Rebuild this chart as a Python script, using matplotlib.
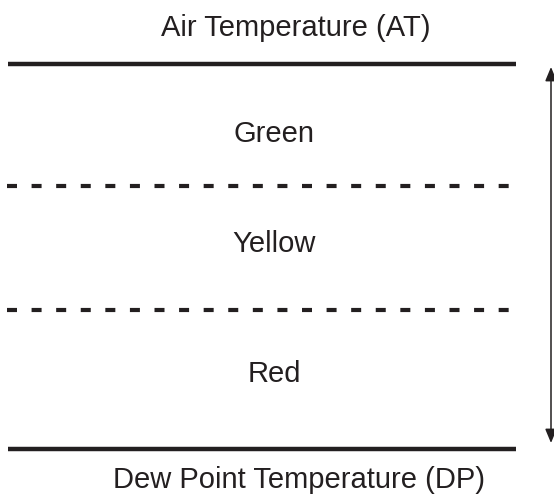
import matplotlib
matplotlib.use("Agg")
import matplotlib.pyplot as plt

plt.rcParams['font.family'] = ['Liberation Sans', 'DejaVu Sans']

# zone labels, from top to bottom
zones = ['Green', 'Yellow', 'Red']
top_label = 'Air Temperature (AT)'
bottom_label = 'Dew Point Temperature (DP)'

# boundary levels (pixel rows of the reference), top to bottom
solid_levels = [64, 449]
dashed_levels = [186, 309.5]
zone_baselines = [142, 252, 382]

ink = '#231f20'

fig = plt.figure(figsize=(5.54, 4.95), dpi=100)
ax = fig.add_axes([0, 0, 1, 1])
ax.set_xlim(0, 554)
ax.set_ylim(495, 0)
ax.axis('off')

for y in solid_levels:
    ax.plot([8, 516], [y, y], color=ink, lw=3.2, solid_capstyle='butt')
for y in dashed_levels:
    ax.plot([7, 509], [y, y], color=ink, lw=3.0, dashes=(2.4, 3.5),
            dash_capstyle='butt')

for name, y in zip(zones, zone_baselines):
    ax.text(274, y, name, ha='center', va='baseline', fontsize=21, color=ink)

ax.text(296, 36.5, top_label, ha='center', va='baseline', fontsize=21, color=ink)
ax.text(299, 488, bottom_label, ha='center', va='baseline', fontsize=21, color=ink)

ax.annotate('', xy=(551, 67), xytext=(551, 443),
            arrowprops=dict(arrowstyle='<|-|>,head_length=0.6,head_width=0.25',
                            color=ink, lw=1.1, mutation_scale=14,
                            shrinkA=0, shrinkB=0))

fig.savefig('out.png', dpi=100)
